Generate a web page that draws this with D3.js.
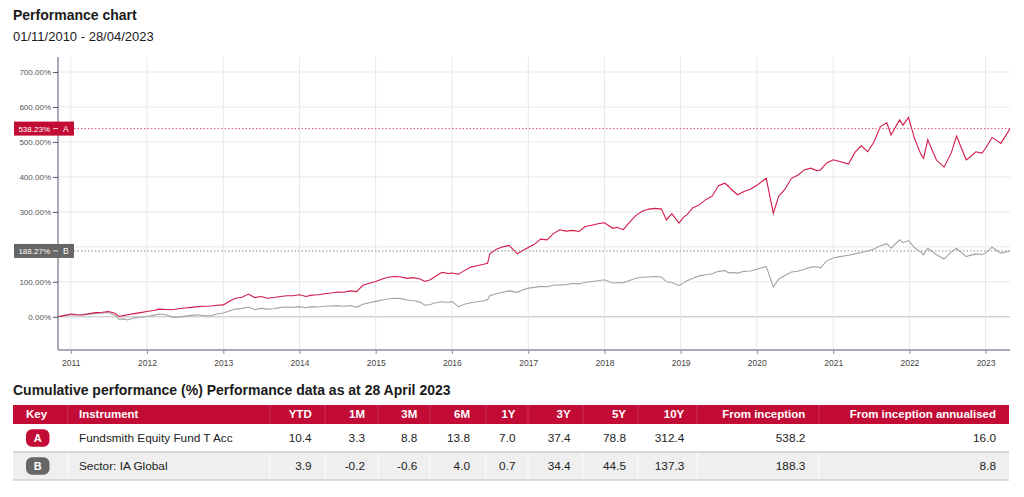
<!DOCTYPE html>
<html><head><meta charset="utf-8">
<script src="https://cdn.jsdelivr.net/npm/d3@7"></script>
<style>
html,body{margin:0;padding:0;background:#fff;}
svg{display:block;font-family:"Liberation Sans",Arial,Helvetica,sans-serif;}
</style></head>
<body>
<svg id="chart" width="1024" height="497"></svg>
<script>
// ---------- DATA ----------
const dates = ["2010-11-01","2010-12-01","2011-01-01","2011-02-01","2011-03-01","2011-04-01","2011-05-01","2011-06-01","2011-07-01","2011-08-01","2011-08-20","2011-09-15","2011-10-01","2011-11-01","2011-12-01",
"2012-01-01","2012-02-01","2012-03-01","2012-04-01","2012-05-01","2012-06-01","2012-07-01","2012-08-01","2012-09-01","2012-10-01","2012-11-01","2012-12-01",
"2013-01-01","2013-02-01","2013-03-01","2013-04-01","2013-05-01","2013-06-01","2013-07-01","2013-08-01","2013-09-01","2013-10-01","2013-11-01","2013-12-01",
"2014-01-01","2014-02-01","2014-03-01","2014-04-01","2014-05-01","2014-06-01","2014-07-01","2014-08-01","2014-09-01","2014-10-01","2014-11-01","2014-12-01",
"2015-01-01","2015-02-01","2015-03-01","2015-04-01","2015-05-01","2015-06-01","2015-07-01","2015-08-01","2015-08-25","2015-09-20","2015-10-15","2015-11-15","2015-12-15",
"2016-01-01","2016-02-01","2016-03-01","2016-04-01","2016-05-01","2016-06-01","2016-06-20","2016-07-01","2016-08-01","2016-09-01","2016-10-01","2016-11-10","2016-12-01",
"2017-01-01","2017-02-01","2017-03-01","2017-04-01","2017-05-01","2017-06-01","2017-07-01","2017-08-01","2017-09-01","2017-10-01","2017-11-01","2017-12-01",
"2018-01-01","2018-02-10","2018-03-01","2018-04-01","2018-05-01","2018-06-01","2018-07-01","2018-08-01","2018-09-01","2018-10-01","2018-10-25","2018-11-20","2018-12-24",
"2019-01-15","2019-02-01","2019-03-01","2019-04-01","2019-05-01","2019-06-01","2019-07-01","2019-08-01","2019-08-20","2019-09-01","2019-10-01","2019-11-01","2019-12-01",
"2020-01-01","2020-02-15","2020-03-20","2020-04-15","2020-05-15","2020-06-15","2020-07-15","2020-08-15","2020-09-15","2020-10-15","2020-11-01","2020-12-01",
"2021-01-01","2021-02-01","2021-03-15","2021-04-15","2021-05-15","2021-06-15","2021-07-15","2021-08-15","2021-09-15","2021-10-05","2021-11-15","2021-12-01","2021-12-28",
"2022-01-25","2022-02-25","2022-03-10","2022-03-30","2022-05-10","2022-06-16","2022-07-20","2022-08-15","2022-09-30","2022-10-15","2022-11-15","2022-12-15",
"2023-01-01","2023-02-01","2023-03-15","2023-04-28"];

const fundValues = [0,4,8,6,5,9,12,13,15,10,1,4,6,9,12,
15,18,22,21,20,23,25,27,29,30,31,33,
34,45,53,56,65,55,58,53,55,58,60,60,
63,58,62,63,66,68,71,70,74,72,90,96,
101,108,113,115,114,110,112,108,101,106,116,127,124,
125,122,132,142,146,150,153,180,193,200,204,180,188,
198,208,222,220,238,249,245,247,244,258,262,266,
269,253,256,249,270,290,302,308,310,308,277,295,268,
285,292,312,320,335,345,375,382,372,364,349,358,365,
376,396,296,345,365,396,405,420,425,418,420,440,
449,444,437,470,489,472,500,544,555,520,563,548,570,
511,465,453,506,449,428,468,517,449,455,472,468,
482,513,496,538.23];

const sectorValues = [0,3,6,5,7,8,9,11,12,4,-7,-6,-9,-3,-2,
1,4,8,6,-1,-1,2,4,6,3,3,8,
11,17,22,24,28,20,24,22,23,27,28,27,
29,26,29,28,30,31,32,30,32,27,36,40,
44,48,51,53,52,48,46,42,33,35,40,43,41,
44,29,36,40,43,46,49,60,66,70,74,70,76,
82,84,87,86,90,91,92,95,94,99,101,103,
106,96,98,97,104,110,113,114,115,114,100,98,89,
97,103,110,117,120,123,130,132,125,127,125,130,131,
136,144,85,108,118,128,130,136,142,143,140,160,
168,172,176,180,184,188,194,203,209,196,220,212,218,
198,185,177,196,178,165,185,196,172,175,180,178,
182,199,182,188.27];

const seriesKeys = ["A","B"];
const seriesNames = ["Fundsmith Equity Fund T Acc","Sector: IA Global"];
const lastLabels = ["538.23%","188.27%"];
const yTickValues = [0,100,200,300,400,500,600,700];
const xTickYears = [2011,2012,2013,2014,2015,2016,2017,2018,2019,2020,2021,2022,2023];

const tableColumns = ["YTD","1M","3M","6M","1Y","3Y","5Y","10Y","From inception","From inception annualised"];
const fundPerf = [10.4,3.3,8.8,13.8,7.0,37.4,78.8,312.4,538.2,16.0];
const sectorPerf = [3.9,-0.2,-0.6,4.0,0.7,34.4,44.5,137.3,188.3,8.8];

// ---------- STYLE / LAYOUT ----------
const RED = "#c20c35", LINE_RED = "#d21b48", GREY_LINE = "#a3a3a3", GREY_BOX = "#666666";
const svg = d3.select("#chart");
const parse = d3.timeParse("%Y-%m-%d");
const X0 = 58, X1 = 1010, YT = 57, YB = 350;

const x = d3.scaleTime().domain([parse("2010-11-01"), parse("2023-04-28")]).range([X0, X1]);
const y = d3.scaleLinear().domain([-95, 743]).range([YB, YT]);

// titles
svg.append("text").attr("x",13).attr("y",20).attr("font-size",14).attr("font-weight","bold").attr("fill","#1a1a1a").text("Performance chart");
svg.append("text").attr("x",13).attr("y",41).attr("font-size",13).attr("fill","#1a1a1a").text("01/11/2010 - 28/04/2023");

// grid
const g = svg.append("g");
g.selectAll(".hg").data(yTickValues).join("line")
  .attr("x1",X0).attr("x2",X1).attr("y1",d=>y(d)).attr("y2",d=>y(d))
  .attr("stroke",d=>d===0?"#bdbdbd":"#e7e8ec").attr("stroke-width",1);
const yearDates = xTickYears.map(yr=>new Date(yr,0,1));
g.selectAll(".vg").data(yearDates).join("line")
  .attr("x1",d=>x(d)).attr("x2",d=>x(d)).attr("y1",YT).attr("y2",YB)
  .attr("stroke","#e7e8ec").attr("stroke-width",1);

// axes
const yAxis = d3.axisLeft(y).tickValues(yTickValues).tickSize(5).tickPadding(2).tickFormat(d=>d3.format(".2f")(d)+"%");
const ya = svg.append("g").attr("transform",`translate(${X0},0)`).call(yAxis);
ya.select(".domain").attr("d",`M0,${YT}V${YB}`).attr("stroke","#50556a");
ya.selectAll(".tick line").attr("stroke","#50556a");
ya.selectAll(".tick text").attr("font-size",8).attr("fill","#555").attr("font-family","Liberation Sans, Arial, sans-serif");

const xAxis = d3.axisBottom(x).tickValues(yearDates).tickSize(4).tickPadding(6).tickFormat(d3.timeFormat("%Y"));
const xa = svg.append("g").attr("transform",`translate(0,${YB})`).call(xAxis);
xa.select(".domain").attr("d",`M${X0},0H${X1}`).attr("stroke","#8b8ca0").attr("stroke-width",1.6);
xa.selectAll(".tick line").attr("stroke","#8b8ca0");
xa.selectAll(".tick text").attr("font-size",8.5).attr("fill","#444").attr("font-family","Liberation Sans, Arial, sans-serif");

// lines
const pts = (vals)=>dates.map((d,i)=>({d:parse(d), v:vals[i]}));
const line = d3.line().x(p=>x(p.d)).y(p=>y(p.v));
svg.append("path").datum(pts(sectorValues)).attr("d",line).attr("fill","none").attr("stroke",GREY_LINE).attr("stroke-width",1.1);
svg.append("path").datum(pts(fundValues)).attr("d",line).attr("fill","none").attr("stroke",LINE_RED).attr("stroke-width",1.1);

// last-value markers
const lastVals = [fundValues[fundValues.length-1], sectorValues[sectorValues.length-1]];
const boxCols = [RED, GREY_BOX];
const dotCols = ["#e0506f","#8a8a8a"];
lastVals.forEach((v,i)=>{
  const yy = y(v);
  svg.append("line").attr("x1",74).attr("x2",X1).attr("y1",yy).attr("y2",yy)
    .attr("stroke",dotCols[i]).attr("stroke-width",1).attr("stroke-dasharray","1.5,2");
  svg.append("rect").attr("x",14).attr("y",yy-7).attr("width",60).attr("height",14).attr("fill",boxCols[i]);
  svg.append("line").attr("x1",53).attr("x2",58).attr("y1",yy).attr("y2",yy).attr("stroke","#fff").attr("stroke-width",0.8);
  svg.append("text").attr("x",50).attr("y",yy+3).attr("text-anchor","end").attr("font-size",8).attr("fill","#fff").text(lastLabels[i]);
  svg.append("text").attr("x",63).attr("y",yy+3).attr("font-size",8.5).attr("fill","#fff").text(seriesKeys[i]);
});

// ---------- TABLE ----------
svg.append("text").attr("x",13).attr("y",395).attr("font-size",14).attr("font-weight","bold").attr("fill","#1a1a1a")
  .text("Cumulative performance (%) Performance data as at 28 April 2023");

const TX0 = 13, TX1 = 1009, HY = 405, HH = 19, RH = 28;
const rightEdges = [311.7,365,417.3,470,515.5,570.7,626,684.3,805.3,996];
const seps = [67.7,270,325,378,430,486,528,583,638,697,819];

svg.append("rect").attr("x",TX0).attr("y",HY).attr("width",TX1-TX0).attr("height",HH).attr("fill",RED);
svg.append("rect").attr("x",TX0).attr("y",HY+HH).attr("width",TX1-TX0).attr("height",RH).attr("fill","#fff");
svg.append("rect").attr("x",TX0).attr("y",HY+HH+RH).attr("width",TX1-TX0).attr("height",RH).attr("fill","#efefef");
// separators
svg.selectAll(".sepH").data(seps).join("line").attr("x1",d=>d).attr("x2",d=>d).attr("y1",HY).attr("y2",HY+HH)
  .attr("stroke","#ffffff").attr("stroke-opacity",0.15);
svg.selectAll(".sepR").data(seps).join("line").attr("x1",d=>d).attr("x2",d=>d).attr("y1",HY+HH+RH).attr("y2",HY+HH+2*RH)
  .attr("stroke","#ffffff").attr("stroke-opacity",0.9);
[HY+HH+RH, HY+HH+2*RH].forEach(yy=>{
  svg.append("line").attr("x1",TX0).attr("x2",TX1).attr("y1",yy).attr("y2",yy).attr("stroke","#cfcfcf").attr("stroke-width",1.5);
});

// header text
const hb = HY+12.5;
svg.append("text").attr("x",26).attr("y",hb).attr("font-size",11.5).attr("font-weight","bold").attr("fill","#fff").text("Key");
svg.append("text").attr("x",79).attr("y",hb).attr("font-size",11.5).attr("font-weight","bold").attr("fill","#fff").text("Instrument");
svg.selectAll(".hc").data(tableColumns).join("text").attr("x",(d,i)=>rightEdges[i]).attr("y",hb)
  .attr("text-anchor","end").attr("font-size",11.5).attr("font-weight","bold").attr("fill","#fff").text(d=>d);

// rows
const rows = [fundPerf, sectorPerf];
rows.forEach((vals,r)=>{
  const top = HY+HH+r*RH;
  const cy = top+RH/2;
  svg.append("rect").attr("x",26).attr("y",cy-8.8).attr("width",23.5).attr("height",17.6).attr("rx",6).attr("fill",boxCols[r]);
  svg.append("text").attr("x",37.8).attr("y",cy+4).attr("text-anchor","middle").attr("font-size",11).attr("font-weight","bold").attr("fill","#fff").text(seriesKeys[r]);
  svg.append("text").attr("x",79).attr("y",cy+4.2).attr("font-size",11.8).attr("fill","#222").text(seriesNames[r]);
  svg.selectAll(".v"+r).data(vals).join("text").attr("x",(d,i)=>rightEdges[i]).attr("y",cy+4.2)
    .attr("text-anchor","end").attr("font-size",11.8).attr("fill","#222").text(d=>d.toFixed(1));
});
</script>
</body></html>
